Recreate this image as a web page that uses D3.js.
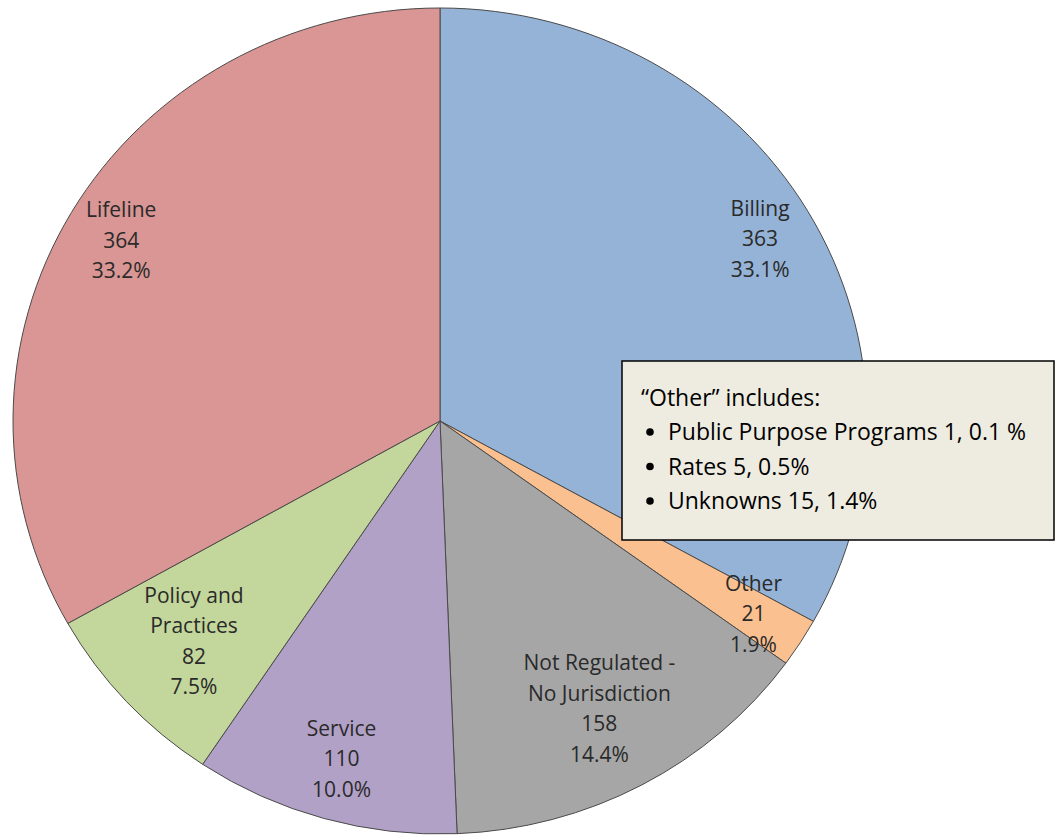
<!DOCTYPE html>
<html><head><meta charset="utf-8">
<script src="https://cdn.jsdelivr.net/npm/d3@7"></script>
<style>body{margin:0;background:#fff}svg{display:block}text{font-family:"Open Sans",Lato,sans-serif}</style>
</head><body>
<svg id="c" width="1056" height="838"></svg>
<script>
const categories = ["Billing","Other","Not Regulated - No Jurisdiction","Service","Policy and Practices","Lifeline"];
const labelLines = [["Billing"],["Other"],["Not Regulated -","No Jurisdiction"],["Service"],["Policy and","Practices"],["Lifeline"]];
const values = [363,21,158,110,82,364];
const percents = ["33.1%","1.9%","14.4%","10.0%","7.5%","33.2%"];
const colors = ["#95B3D7","#FAC090","#A6A6A6","#B2A1C7","#C3D69B","#D99694"];
const noteTitle = "\u201COther\u201D includes:";
const noteItems = ["Public Purpose Programs 1, 0.1 %","Rates 5, 0.5%","Unknowns 15, 1.4%"];

const svg = d3.select("#c");
const cx = 440, cy = 421, ry = 413, rx = 427, sx = rx/ry;
const pie = d3.pie().sort(null).value(d=>d)(values);
const arc = d3.arc().innerRadius(0).outerRadius(ry);
const g = svg.append("g").attr("transform",`translate(${cx},${cy}) scale(${sx},1)`);
g.selectAll("path").data(pie).join("path")
  .attr("d",arc).attr("fill",(d,i)=>colors[i])
  .attr("stroke","#4a4a4a").attr("stroke-width",1).attr("vector-effect","non-scaling-stroke");

const labelFrac = [0.87,0.87,0.79,0.85,0.785,0.865];
const lh = 30.5;
pie.forEach((d,i)=>{
  const a = (d.startAngle+d.endAngle)/2;
  const r = ry*labelFrac[i];
  const x = cx + Math.sin(a)*r*sx;
  const y = cy - Math.cos(a)*r;
  const lines = labelLines[i].concat([String(values[i]), percents[i]]);
  const t = svg.append("text").attr("text-anchor","middle").attr("font-size",21).attr("fill","#2a2a2a");
  const y0 = y - (lines.length-1)*lh/2;
  lines.forEach((s,k)=>t.append("tspan").attr("x",x).attr("y",y0+k*lh).attr("dy","0.35em").text(s));
});

// note box
const bx=622, by=361, bw=432, bh=179;
svg.append("rect").attr("x",bx).attr("y",by).attr("width",bw).attr("height",bh)
  .attr("fill","#EEECE1").attr("stroke","#000").attr("stroke-width",1.5);
svg.append("text").attr("x",641).attr("y",398).attr("dy","0.35em").attr("font-size",23).attr("fill","#000").text(noteTitle);
noteItems.forEach((s,k)=>{
  const yy = 432 + k*34.5;
  svg.append("circle").attr("cx",650).attr("cy",yy).attr("r",3.8).attr("fill","#000");
  svg.append("text").attr("x",668).attr("y",yy).attr("dy","0.35em").attr("font-size",23).attr("fill","#000").text(s);
});
</script>
</body></html>
